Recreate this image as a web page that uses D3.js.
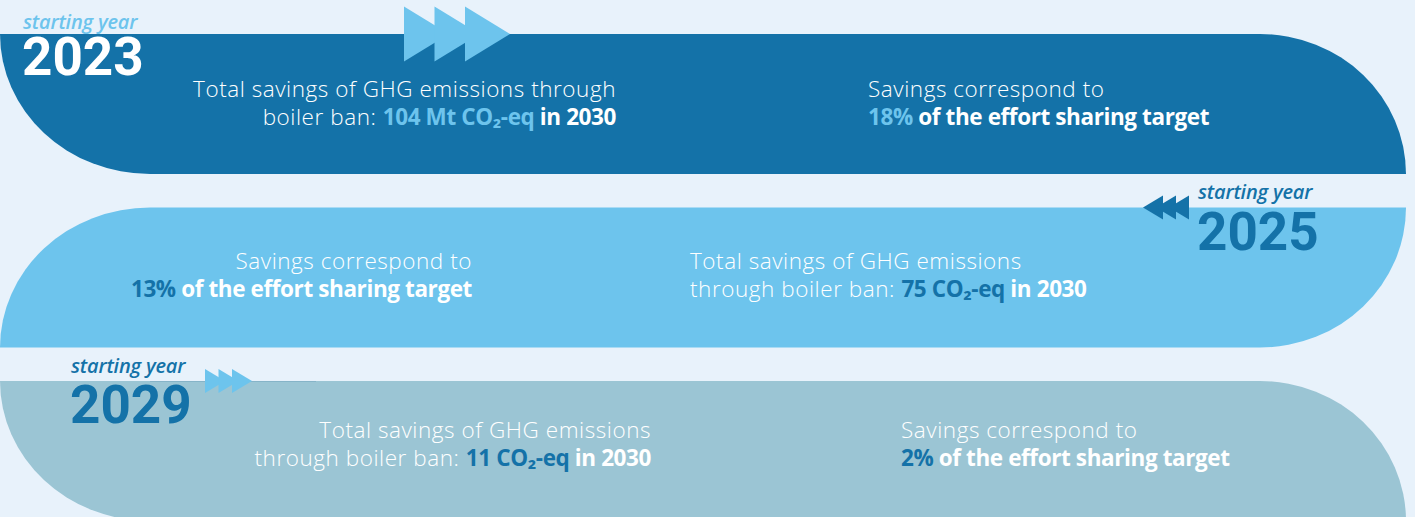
<!DOCTYPE html>
<html>
<head>
<meta charset="utf-8">
<script src="https://cdn.jsdelivr.net/npm/d3@7"></script>
<style>
  html, body { margin: 0; padding: 0; background: #e8f2fb; }
  svg { display: block; }
  .body { font-family: "Open Sans", "Noto Sans", sans-serif; font-size: 22.5px; }
  .light { font-weight: 300; letter-spacing: 0.55px; }
  .bold { font-weight: 700; letter-spacing: -0.4px; }
  .start { font-family: "Open Sans", sans-serif; font-style: italic; font-weight: 600; font-size: 20px; letter-spacing: -0.2px; }
  .year { font-family: Roboto, sans-serif; font-weight: 700; font-size: 53px; }
</style>
</head>
<body>
<div id="chart"></div>
<script>
"use strict";

// Data
var years = [2023, 2025, 2029];
var savings = ["104 Mt CO₂-eq", "75 CO₂-eq", "11 CO₂-eq"];
var shares = ["18%", "13%", "2%"];
var savingsLines = [
  ["Total savings of GHG emissions through", "boiler ban: "],
  ["Total savings of GHG emissions", "through boiler ban: "],
  ["Total savings of GHG emissions", "through boiler ban: "]
];
var shareLines = ["Savings correspond to", " of the effort sharing target"];

var width = 1415;
var height = 517;

var colors = {
  bg: "#e8f2fb",
  dark: "#1472a8",
  light: "#6dc4ed",
  grey: "#9bc5d4"
};

// Layout for each band (styles and positions, not data)
var layout = [
  { fill: colors.dark, dir: 1, hi: colors.light, yearColor: "#ffffff", startColor: colors.light,
    yearX: 24, startY: -5, yearY: 41, lineY: 63,
    savingsX: 616, savingsAnchor: "end", shareX: 868, shareAnchor: "start",
    arrow: { x: 404, w: 45, h: 55, step: 30.5, color: colors.light } },
  { fill: colors.light, dir: -1, hi: colors.dark, yearColor: colors.dark, startColor: colors.dark,
    yearX: 1199, startY: -8, yearY: 43, lineY: 62,
    savingsX: 690, savingsAnchor: "start", shareX: 472, shareAnchor: "end",
    arrow: { x: 1143, w: 20, h: 24, step: 13, color: colors.dark } },
  { fill: colors.grey, dir: 1, hi: colors.dark, yearColor: colors.dark, startColor: colors.dark,
    yearX: 72, startY: -8, yearY: 42, lineY: 57,
    savingsX: 651, savingsAnchor: "end", shareX: 901, shareAnchor: "start",
    arrow: { x: 205, w: 20, h: 24, step: 13.5, color: colors.light } }
];

var y = d3.scaleBand()
  .domain(years)
  .range([34, 521])
  .paddingInner(0.193)
  .paddingOuter(0);

var x = d3.scaleLinear().domain([0, 1]).range([0, 1406]);

var svg = d3.select("#chart")
  .append("svg")
    .attr("width", width)
    .attr("height", height);

svg.append("rect")
  .attr("width", width)
  .attr("height", height)
  .attr("fill", colors.bg);

var rxL = 150, rxR = 146;

var bandPath = function (year, i) {
  var t = y(year), b = t + y.bandwidth(), ry = y.bandwidth();
  var x0 = x(0), x1 = x(1);
  if (layout[i].dir > 0) {
    return "M" + x0 + "," + t +
      "L" + (x1 - rxR) + "," + t +
      "A" + rxR + "," + ry + " 0 0 1 " + x1 + "," + b +
      "L" + (x0 + rxL) + "," + b +
      "A" + rxL + "," + ry + " 0 0 1 " + x0 + "," + t + "Z";
  }
  return "M" + (x0 + rxL) + "," + t +
    "L" + x1 + "," + t +
    "A" + rxR + "," + ry + " 0 0 1 " + (x1 - rxR) + "," + b +
    "L" + x0 + "," + b +
    "A" + rxL + "," + ry + " 0 0 1 " + (x0 + rxL) + "," + t + "Z";
};

svg.selectAll("path.band")
  .data(years)
  .enter()
  .append("path")
    .attr("class", "band")
    .attr("d", bandPath)
    .attr("fill", function (d, i) { return layout[i].fill; });

// faint edge on the last band
svg.append("line")
  .attr("x1", 150).attr("x2", 316)
  .attr("y1", y(years[2]) + 0.5).attr("y2", y(years[2]) + 0.5)
  .attr("stroke", "#86b4c8")
  .attr("stroke-width", 1);

// Arrows (three chevron triangles per band)
years.forEach(function (year, i) {
  var a = layout[i].arrow;
  var mid = y(year);
  var g = svg.append("g").attr("class", "arrows");
  [0, 1, 2].forEach(function (k) {
    var pts;
    if (layout[i].dir > 0) {
      var lx = a.x + k * a.step;
      pts = [[lx, mid - a.h / 2], [lx + a.w, mid], [lx, mid + a.h / 2]];
    } else {
      var tx = a.x + k * a.step;
      pts = [[tx, mid], [tx + a.w, mid - a.h / 2], [tx + a.w, mid + a.h / 2]];
    }
    g.append("path")
      .attr("d", d3.line()(pts) + "Z")
      .attr("fill", a.color);
  });
});

// Year labels
years.forEach(function (year, i) {
  var L = layout[i];
  var top = y(year);
  svg.append("text")
    .attr("class", "start")
    .attr("x", L.yearX - 1)
    .attr("y", top + L.startY)
    .attr("fill", L.startColor)
    .text("starting year");
  svg.append("text")
    .attr("class", "year")
    .attr("x", L.yearX - 2)
    .attr("y", top + L.yearY)
    .attr("fill", L.yearColor)
    .text(year);
});

// Text blocks
years.forEach(function (year, i) {
  var L = layout[i];
  var top = y(year);

  var s = svg.append("text")
    .attr("class", "body")
    .attr("text-anchor", L.savingsAnchor)
    .attr("fill", "#ffffff");
  s.append("tspan")
    .attr("class", "light")
    .attr("x", L.savingsX)
    .attr("y", top + L.lineY)
    .text(savingsLines[i][0]);
  s.append("tspan")
    .attr("class", "light")
    .attr("x", L.savingsX)
    .attr("y", top + L.lineY + 28)
    .text(savingsLines[i][1]);
  s.append("tspan")
    .attr("class", "bold")
    .attr("fill", L.hi)
    .text(savings[i]);
  s.append("tspan")
    .attr("class", "bold")
    .text(" in 2030");

  var c = svg.append("text")
    .attr("class", "body")
    .attr("text-anchor", L.shareAnchor)
    .attr("fill", "#ffffff");
  c.append("tspan")
    .attr("class", "light")
    .attr("x", L.shareX)
    .attr("y", top + L.lineY)
    .text(shareLines[0]);
  c.append("tspan")
    .attr("class", "bold")
    .attr("x", L.shareX)
    .attr("y", top + L.lineY + 28)
    .attr("fill", L.hi)
    .text(shares[i]);
  c.append("tspan")
    .attr("class", "bold")
    .text(shareLines[1]);
});
</script>
</body>
</html>
